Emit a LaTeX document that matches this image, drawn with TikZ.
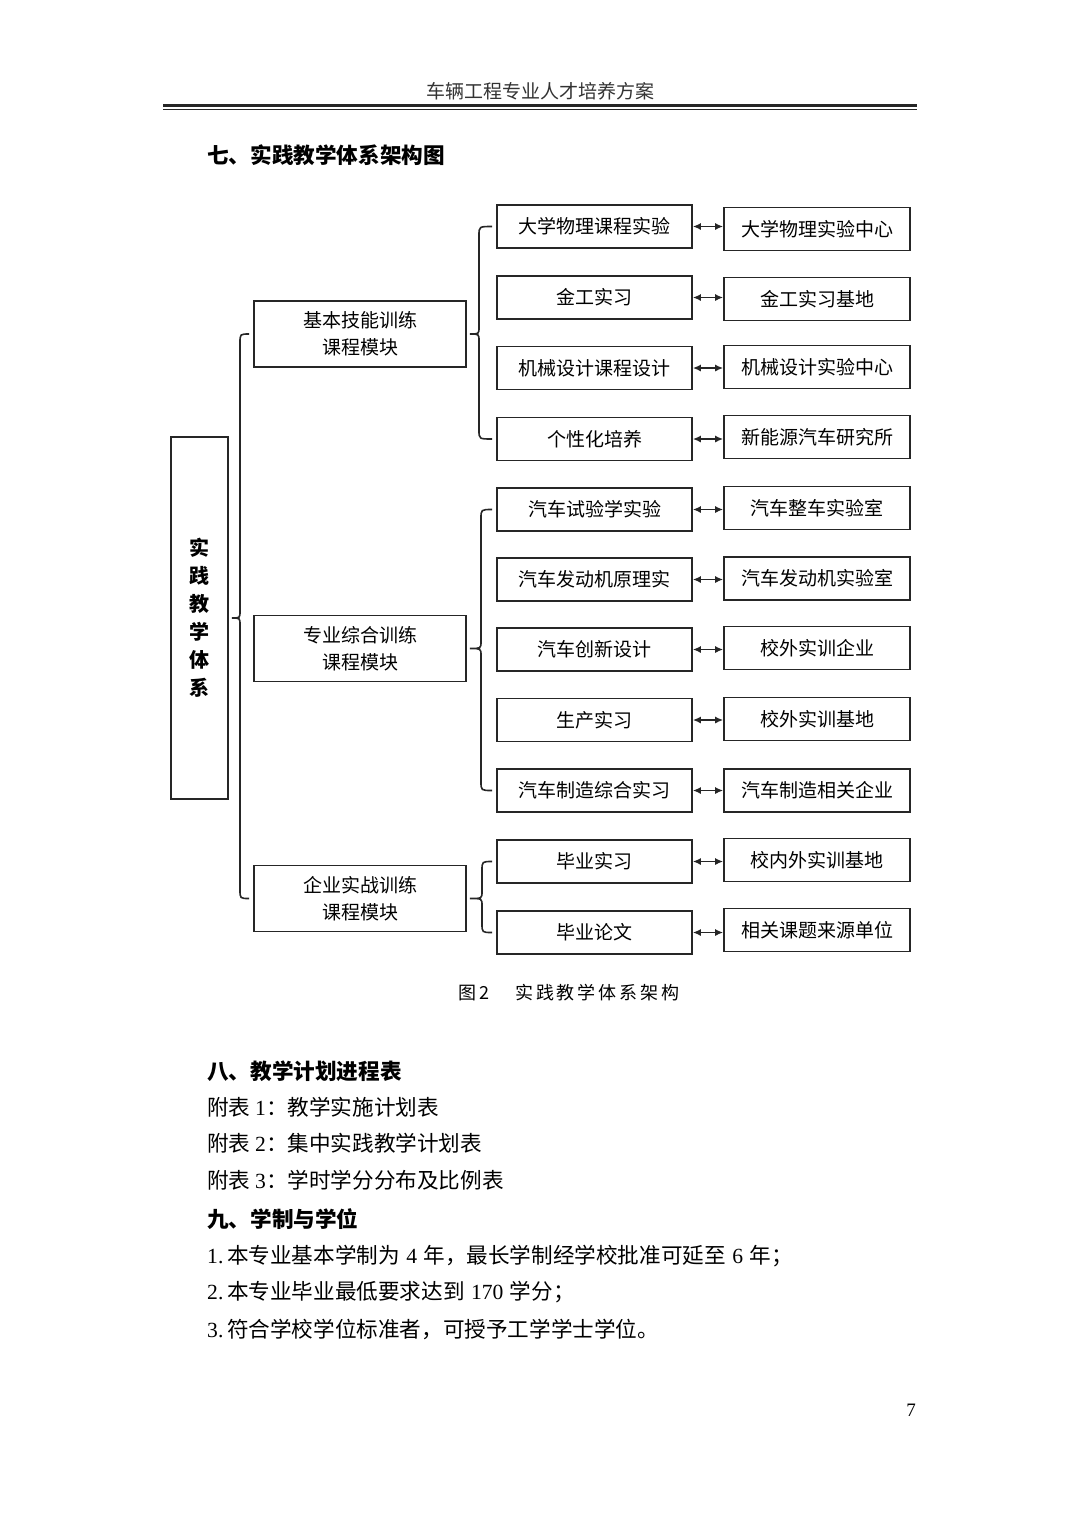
\documentclass[tikz,border=0pt]{standalone}
\usepackage{fontspec}
\setmainfont{Noto Sans CJK SC}
\newfontfamily\latin{Liberation Serif}
\usetikzlibrary{arrows.meta,calc}

\newcommand{\joinbrace}[4]{%
  \coordinate (sp) at (#4,0);
  \draw[bracket] ([xshift=-4pt]#2.west) .. controls (sp |- #2.west) .. ($(sp |- #2.west)+(0,9)$)
    -- ($(sp |- #1.east)+(0,-7)$) .. controls (sp |- #1.east) .. ($(#1.east)+(3,0)$)
    .. controls (sp |- #1.east) .. ($(sp |- #1.east)+(0,7)$)
    -- ($(sp |- #3.west)+(0,-9)$) .. controls (sp |- #3.west) .. ([xshift=-4pt]#3.west);
}

\begin{document}
\begin{tikzpicture}[
    x=1pt, y=-1pt,
    boxbase/.style={rectangle, draw=black!85, line width=1.6pt, inner sep=0pt,
      align=center, font=\fontsize{19}{27}\selectfont},
    coursebox/.style={boxbase, minimum width=195pt, minimum height=43pt},
    sitebox/.style={boxbase, minimum width=186pt, minimum height=43pt},
    modulebox/.style={boxbase, minimum width=212pt, minimum height=66pt},
    rootbox/.style={boxbase, minimum width=57pt, minimum height=362pt,
      font=\fontsize{20}{28}\selectfont\bfseries},
    bracket/.style={draw=black!85, line width=1.6pt},
    link/.style={{Latex[length=8pt,width=7pt]}-{Latex[length=8pt,width=7pt]},
      draw=black!85, line width=1.6pt},
    bodytext/.style={anchor=west, inner sep=0pt, font=\fontsize{21.6}{21.6}\selectfont},
    headtext/.style={anchor=west, inner sep=0pt, font=\fontsize{21.6}{21.6}\selectfont\bfseries}
  ]
    \fill[white] (0,0) rectangle (1080,1527);
    \useasboundingbox (0,0) rectangle (1080,1527);

    \node[font=\fontsize{19}{19}\selectfont, text=black!80] (title) at (540,91) {车辆工程专业人才培养方案};
    \draw[line width=2.6pt, black!85] (163,105.5) -- (917,105.5);
    \draw[line width=1.5pt, black!85] (163,109.5) -- (917,109.5);
    \node[headtext] (sec7) at (207,155) {七、实践教学体系架构图};

    \node[rootbox] (root) at (199.5,618) {实\\践\\教\\学\\体\\系};
    \node[modulebox] (m1) at (360,334)   {基本技能训练\\课程模块};
    \node[modulebox] (m2) at (360,648.5) {专业综合训练\\课程模块};
    \node[modulebox] (m3) at (360,898.5) {企业实战训练\\课程模块};

    \node[coursebox] (c11) at (594.5,226.5) {大学物理课程实验};
    \node[coursebox] (c12) at (594.5,297.5) {金工实习};
    \node[coursebox] (c13) at (594.5,368)   {机械设计课程设计};
    \node[coursebox] (c14) at (594.5,439)   {个性化培养};
    \node[coursebox] (c21) at (594.5,509.5) {汽车试验学实验};
    \node[coursebox] (c22) at (594.5,579.5) {汽车发动机原理实};
    \node[coursebox] (c23) at (594.5,649.5) {汽车创新设计};
    \node[coursebox] (c24) at (594.5,720)   {生产实习};
    \node[coursebox] (c25) at (594.5,790.5) {汽车制造综合实习};
    \node[coursebox] (c31) at (594.5,861.5) {毕业实习};
    \node[coursebox] (c32) at (594.5,932.5) {毕业论文};

    \node[sitebox] (d11) at (817,229)   {大学物理实验中心};
    \node[sitebox] (d12) at (817,299)   {金工实习基地};
    \node[sitebox] (d13) at (817,367)   {机械设计实验中心};
    \node[sitebox] (d14) at (817,437)   {新能源汽车研究所};
    \node[sitebox] (d21) at (817,508)   {汽车整车实验室};
    \node[sitebox] (d22) at (817,578.5) {汽车发动机实验室};
    \node[sitebox] (d23) at (817,648)   {校外实训企业};
    \node[sitebox] (d24) at (817,719)   {校外实训基地};
    \node[sitebox] (d25) at (817,790.5) {汽车制造相关企业};
    \node[sitebox] (d31) at (817,860)   {校内外实训基地};
    \node[sitebox] (d32) at (817,930)   {相关课题来源单位};

    \draw[link] (c11.east) -- (c11.east -| d11.west);
    \draw[link] (c12.east) -- (c12.east -| d12.west);
    \draw[link] (c13.east) -- (c13.east -| d13.west);
    \draw[link] (c14.east) -- (c14.east -| d14.west);
    \draw[link] (c21.east) -- (c21.east -| d21.west);
    \draw[link] (c22.east) -- (c22.east -| d22.west);
    \draw[link] (c23.east) -- (c23.east -| d23.west);
    \draw[link] (c24.east) -- (c24.east -| d24.west);
    \draw[link] (c25.east) -- (c25.east -| d25.west);
    \draw[link] (c31.east) -- (c31.east -| d31.west);
    \draw[link] (c32.east) -- (c32.east -| d32.west);

    \joinbrace{root}{m1}{m3}{240}
    \joinbrace{m1}{c11}{c14}{479}
    \joinbrace{m2}{c21}{c25}{481}
    \joinbrace{m3}{c31}{c32}{482}

    \node[anchor=west, inner sep=0pt, font=\fontsize{18}{18}\selectfont] (cap) at (458,993)
      {图\,2\hspace{26pt}\addfontfeature{LetterSpace=16}实践教学体系架构};

    \node[headtext] (sec8) at (207,1071) {八、教学计划进程表};
    \node[bodytext] (t1) at (207,1107) {附表 {\latin 1}：教学实施计划表};
    \node[bodytext] (t2) at (207,1143) {附表 {\latin 2}：集中实践教学计划表};
    \node[bodytext] (t3) at (207,1180) {附表 {\latin 3}：学时学分分布及比例表};
    \node[headtext] (sec9) at (207,1219) {九、学制与学位};
    \node[bodytext] (p1) at (207,1256) {{\latin 1.\,}本专业基本学制为\hspace{0.3em}{\latin 4}\hspace{0.3em}年，最长学制经学校批准可延至\hspace{0.3em}{\latin 6}\hspace{0.3em}年；};
    \node[bodytext] (p2) at (207,1292) {{\latin 2.\,}本专业毕业最低要求达到\hspace{0.3em}{\latin 170}\hspace{0.3em}学分；};
    \node[bodytext] (p3) at (207,1329) {{\latin 3.\,}符合学校学位标准者，可授予工学学士学位。};
    \node[font=\latin\fontsize{19}{19}\selectfont] (pg) at (911,1410) {7};
  \end{tikzpicture}
\end{document}
